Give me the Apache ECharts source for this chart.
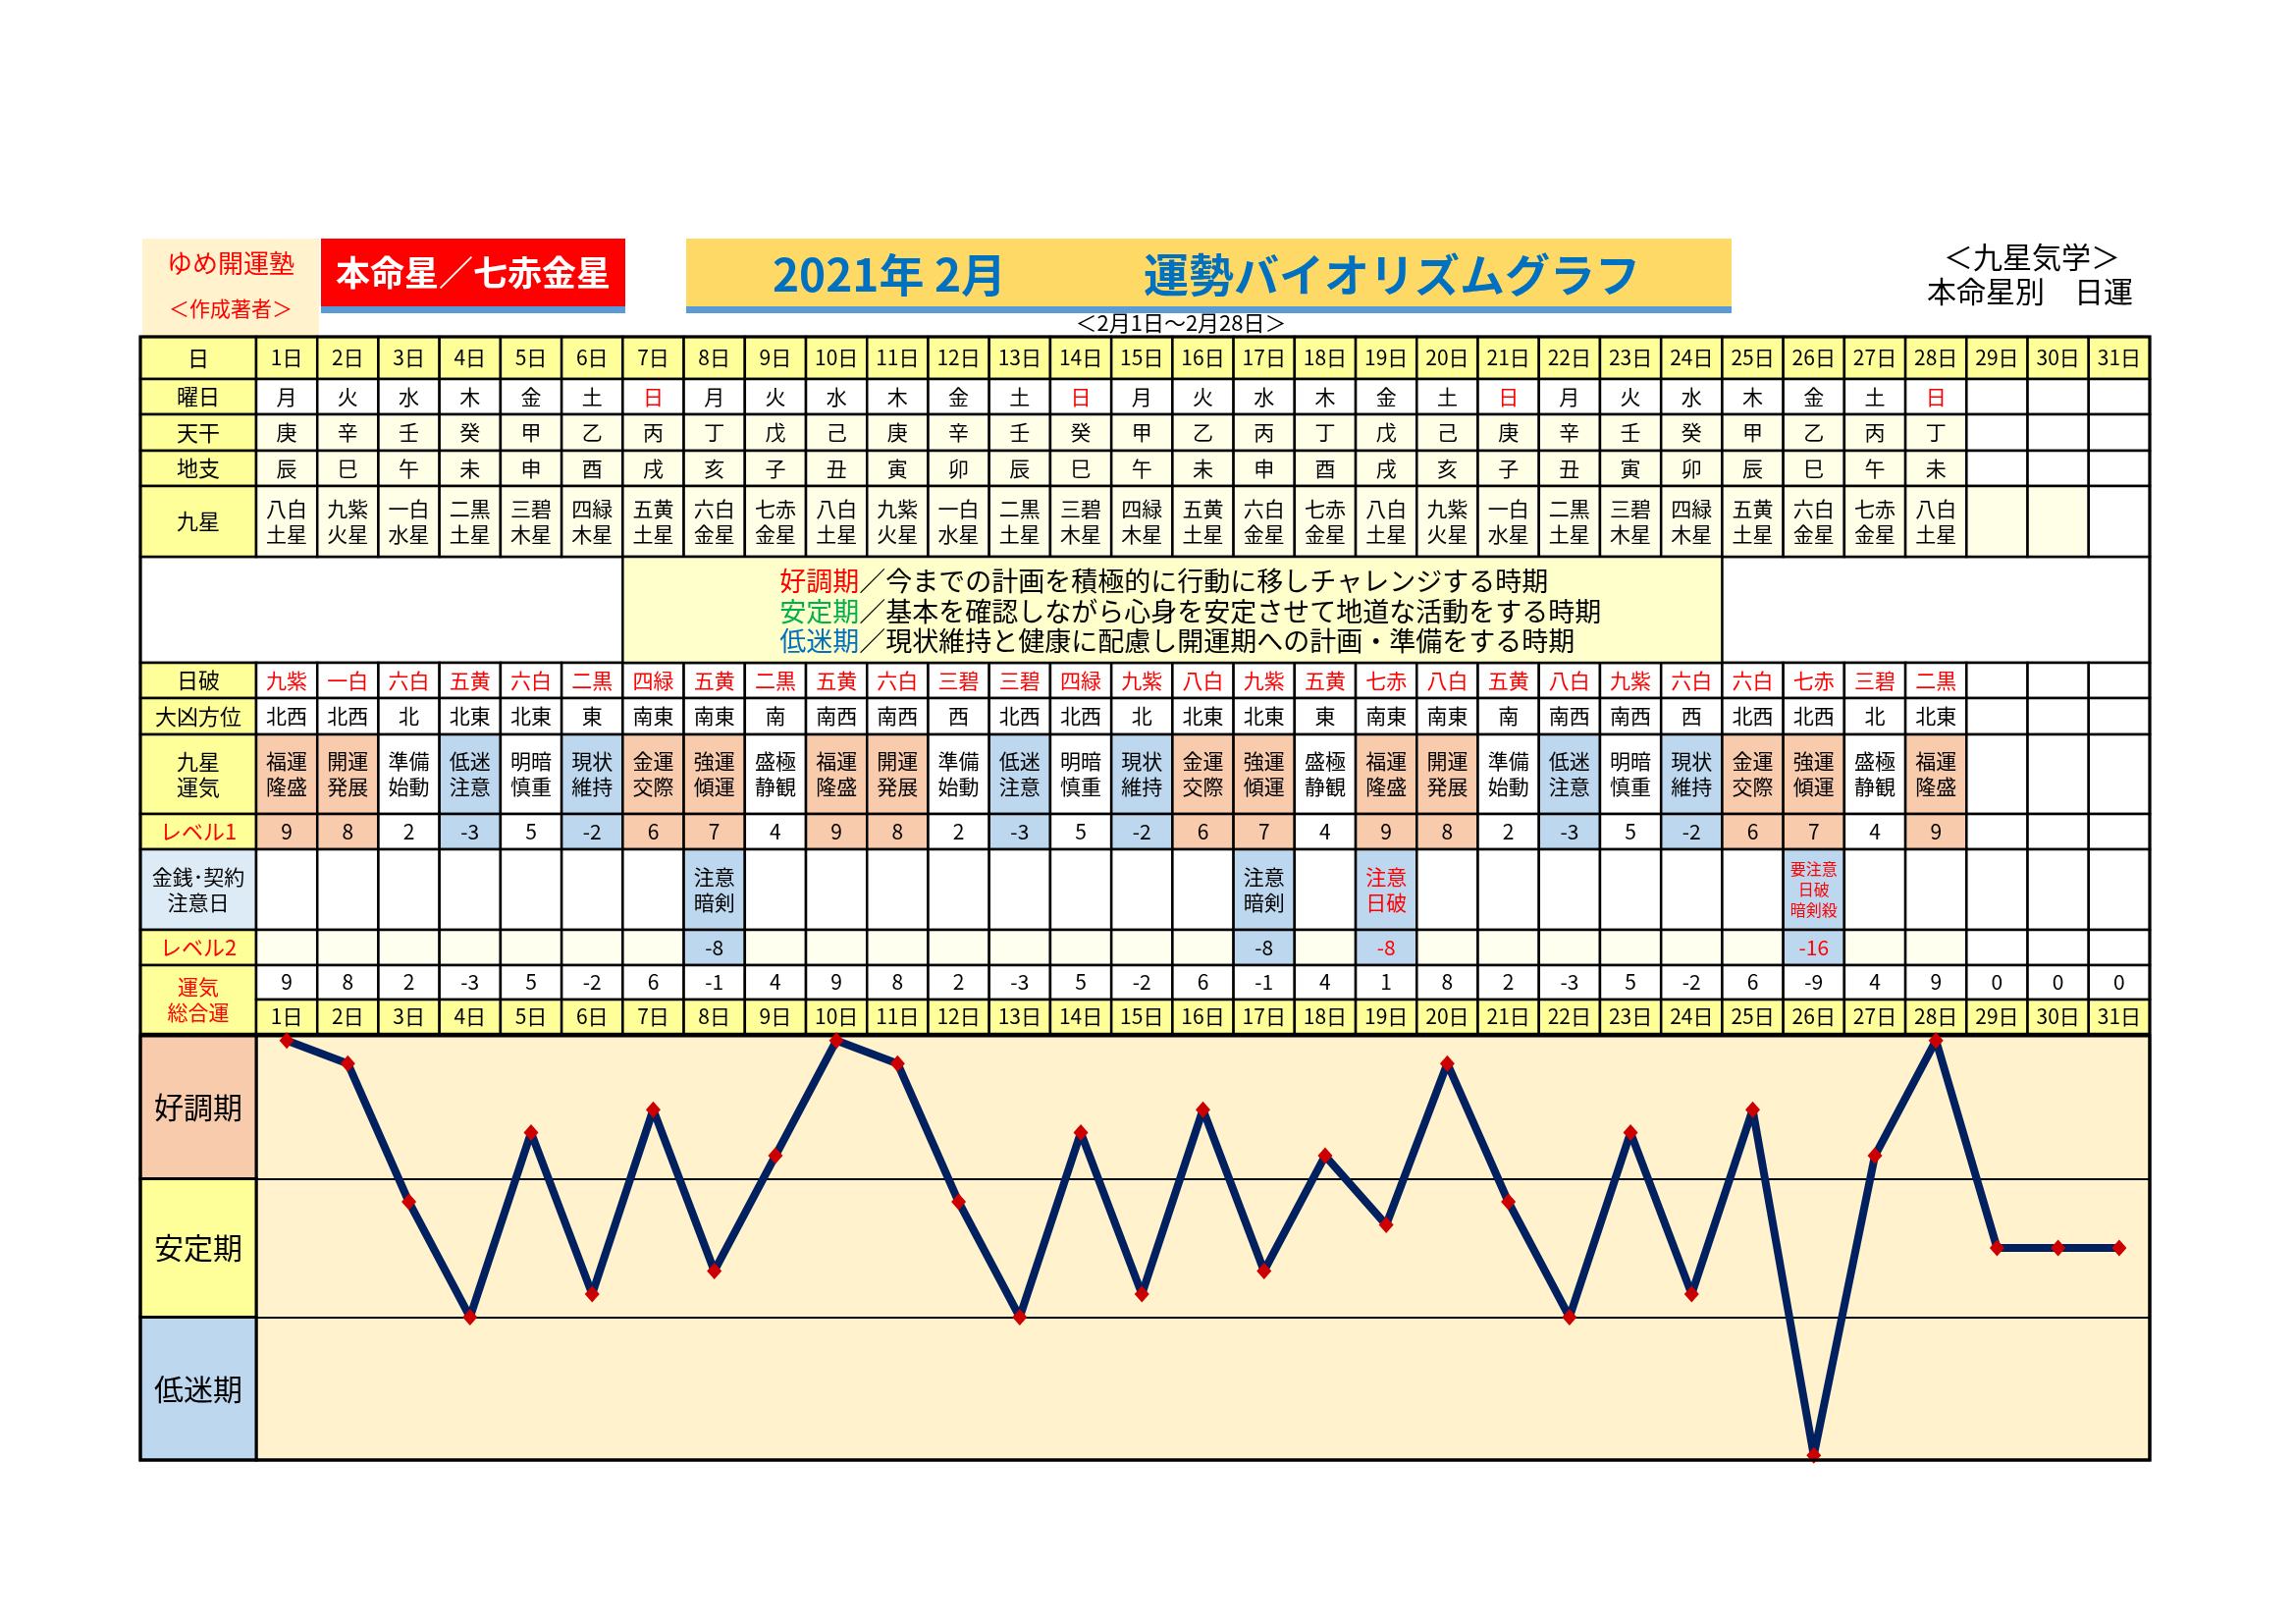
<!DOCTYPE html>
<html><head><meta charset="utf-8">
<script src="https://cdn.jsdelivr.net/npm/echarts@6/dist/echarts.min.js"></script>
<style>html,body{margin:0;padding:0;background:#fff}#c{width:2339px;height:1654px}</style>
</head><body><div id="c"></div>
<script>
// ---------- data ----------
const days = ['1日','2日','3日','4日','5日','6日','7日','8日','9日','10日','11日','12日','13日','14日','15日','16日','17日','18日','19日','20日','21日','22日','23日','24日','25日','26日','27日','28日','29日','30日','31日'];
const weekdays = ['月','火','水','木','金','土','日','月','火','水','木','金','土','日','月','火','水','木','金','土','日','月','火','水','木','金','土','日'];
const tenkan = ['庚','辛','壬','癸','甲','乙','丙','丁','戊','己','庚','辛','壬','癸','甲','乙','丙','丁','戊','己','庚','辛','壬','癸','甲','乙','丙','丁'];
const chishi = ['辰','巳','午','未','申','酉','戌','亥','子','丑','寅','卯','辰','巳','午','未','申','酉','戌','亥','子','丑','寅','卯','辰','巳','午','未'];
const kyusei = ['八白\n土星','九紫\n火星','一白\n水星','二黒\n土星','三碧\n木星','四緑\n木星','五黄\n土星','六白\n金星','七赤\n金星',
  '八白\n土星','九紫\n火星','一白\n水星','二黒\n土星','三碧\n木星','四緑\n木星','五黄\n土星','六白\n金星','七赤\n金星',
  '八白\n土星','九紫\n火星','一白\n水星','二黒\n土星','三碧\n木星','四緑\n木星','五黄\n土星','六白\n金星','七赤\n金星','八白\n土星'];
const nippa = ['九紫','一白','六白','五黄','六白','二黒','四緑','五黄','二黒','五黄','六白','三碧','三碧','四緑','九紫','八白','九紫','五黄','七赤','八白','五黄','八白','九紫','六白','六白','七赤','三碧','二黒'];
const daikyo = ['北西','北西','北','北東','北東','東','南東','南東','南','南西','南西','西','北西','北西','北','北東','北東','東','南東','南東','南','南西','南西','西','北西','北西','北','北東'];
const unki = ['福運\n隆盛','開運\n発展','準備\n始動','低迷\n注意','明暗\n慎重','現状\n維持','金運\n交際','強運\n傾運','盛極\n静観',
  '福運\n隆盛','開運\n発展','準備\n始動','低迷\n注意','明暗\n慎重','現状\n維持','金運\n交際','強運\n傾運','盛極\n静観',
  '福運\n隆盛','開運\n発展','準備\n始動','低迷\n注意','明暗\n慎重','現状\n維持','金運\n交際','強運\n傾運','盛極\n静観','福運\n隆盛'];
const level1 = [9,8,2,-3,5,-2,6,7,4,9,8,2,-3,5,-2,6,7,4,9,8,2,-3,5,-2,6,7,4,9];
const caution = ['','','','','','','','注意\n暗剣','','','','','','','','','注意\n暗剣','','注意\n日破','','','','','','','要注意\n日破\n暗剣殺','',''];
const level2 = [null,null,null,null,null,null,null,-8,null,null,null,null,null,null,null,null,-8,null,-8,null,null,null,null,null,null,-16,null,null];
const total = [9,8,2,-3,5,-2,6,-1,4,9,8,2,-3,5,-2,6,-1,4,1,8,2,-3,5,-2,6,-9,4,9,0,0,0];
const bandTop = [9.2, 3, -3];
const bandBottom = [3, -3, -9.2];
const bandLabels = ['好調期','安定期','低迷期'];
const legendLines = [
  ['好調期','／今までの計画を積極的に行動に移しチャレンジする時期'],
  ['安定期','／基本を確認しながら心身を安定させて地道な活動をする時期'],
  ['低迷期','／現状維持と健康に配慮し開運期への計画・準備をする時期']
];

// ---------- styles ----------
const FONT = '"Noto Sans CJK JP","Noto Sans",sans-serif';
const RED = '#FF0000', Y = '#FFFF99', LY = '#FFFFE8', PEACH = '#F8CBAD', BLUE = '#BDD7EE';
const L = 143, LW = 118, X0 = 261, X1 = 2190;
const lvlBg = v => v >= 6 ? PEACH : (v < 0 ? BLUE : '#FFFFFF');

const rows = [
  {top:343, h:43, label:'日', cell:i=>({text:days[i], bg:Y})},
  {top:386, h:36, label:'曜日', cell:i=>({text:weekdays[i]||'', bg:'#FFFFFF', color: weekdays[i]==='日'?RED:'#000'})},
  {top:422, h:37, label:'天干', cell:i=>({text:tenkan[i]||'', bg:i<28?LY:'#FFFFFF'})},
  {top:459, h:36, label:'地支', cell:i=>({text:chishi[i]||'', bg:i<28?LY:'#FFFFFF'})},
  {top:495, h:72, label:'九星', cell:i=>({text:kyusei[i]||'', bg:i<30?LY:'#FFFFFF'})},
  {top:675, h:36, label:'日破', cell:i=>({text:nippa[i]||'', bg:'#FFFFFF', color:RED})},
  {top:711, h:37, label:'大凶方位', cell:i=>({text:daikyo[i]||'', bg:'#FFFFFF'})},
  {top:748, h:81, label:'九星\n運気', cell:i=>({text:unki[i]||'', bg:i<28?lvlBg(level1[i]):'#FFFFFF'})},
  {top:829, h:36, label:'レベル1', labelColor:RED, cell:i=>({text:i<28?String(level1[i]):'', bg:i<28?lvlBg(level1[i]):'#FFFFFF'})},
  {top:865, h:82, label:'金銭･契約\n注意日', labelBg:'#DDEBF7', labelSize:21, cell:i=>{
      const t = caution[i]||''; const red = t.indexOf('日破')>=0;
      return {text:t, bg:t?BLUE:'#FFFFFF', color:red?RED:'#000', size:t.split('\n').length>2?16:21, lh:t.split('\n').length>2?21:26};
  }},
  {top:947, h:36, label:'レベル2', labelColor:RED, cell:i=>{
      const v = level2[i]; const red = (caution[i]||'').indexOf('日破')>=0;
      return {text:v==null?'':String(v), bg:v!=null?BLUE:(i<28?'#FFFFF0':'#FFFFFF'), color:red?RED:'#000'};
  }},
  {top:983, h:35, label:null, cell:i=>({text:String(total[i]), bg:'#FFFFFF'})},
  {top:1018, h:35, label:null, cell:i=>({text:days[i], bg:Y})}
];

function txt(text, x, y, size, color, weight, lh){
  return {type:'text', x:x, y:y, z:10, style:{text:text, fill:color||'#000', font:(weight||'normal')+' '+size+'px '+FONT,
    align:'center', verticalAlign:'middle', textAlign:'center', textVerticalAlign:'middle', lineHeight:lh||size+4}};
}

const grids = [], xAxes = [], yAxes = [], series = [];
rows.forEach((r, gi) => {
  grids.push({left:X0, width:X1-X0, top:r.top, height:r.h});
  xAxes.push({type:'category', data:days, gridIndex:gi, show:false});
  yAxes.push({type:'category', data:['r'], gridIndex:gi, show:false});
  series.push({type:'custom', xAxisIndex:gi, yAxisIndex:gi, silent:true,
    data: days.map((d, j) => [j, 0]),
    renderItem: function(params, api){
      const i = api.value(0);
      const c = api.coord([i, 0]);
      const s = api.size([1, 1]);
      const cell = r.cell(i);
      const ch = [{type:'rect', shape:{x:c[0]-s[0]/2, y:c[1]-s[1]/2, width:s[0], height:s[1]},
        style:{fill:cell.bg, stroke:'#000', lineWidth:2.5}}];
      if (cell.text) {
        const sz = cell.size || 21;
        ch.push({type:'text', style:{text:cell.text, x:c[0], y:c[1], fill:cell.color||'#000',
          font:sz+'px '+FONT, align:'center', verticalAlign:'middle', textAlign:'center', textVerticalAlign:'middle', lineHeight:cell.lh||26}});
      }
      return {type:'group', children:ch};
    }
  });
});

// legend row grid
let gi = rows.length;
grids.push({left:X0, width:X1-X0, top:567, height:108});
xAxes.push({type:'category', data:days, gridIndex:gi, show:false});
yAxes.push({type:'category', data:['r'], gridIndex:gi, show:false});
series.push({type:'custom', xAxisIndex:gi, yAxisIndex:gi, silent:true,
  data:[[6, 0, 23]],
  renderItem: function(params, api){
    const a = api.coord([api.value(0), 0]);
    const b = api.coord([api.value(2), 0]);
    const s = api.size([1, 1]);
    const x = a[0]-s[0]/2, w = b[0]+s[0]/2 - x, y = a[1]-s[1]/2;
    const cols = ['#FF0000','#00B050','#0070C0'];
    const ch = [{type:'rect', shape:{x:x, y:y, width:w, height:s[1]}, style:{fill:'#FFFFCC', stroke:'#000', lineWidth:2.5}}];
    legendLines.forEach((ln, k) => {
      ch.push({type:'text', style:{text:'{h|'+ln[0]+'}{t|'+ln[1]+'}', x:x+160, y:y+25+k*30.5,
        font:'27px '+FONT, align:'left', verticalAlign:'middle', textAlign:'left', textVerticalAlign:'middle',
        rich:{h:{fill:cols[k], font:'27px '+FONT}, t:{fill:'#000', font:'27px '+FONT}}}});
    });
    return {type:'group', children:ch};
  }
});

// chart grid
gi++;
grids.push({left:X0, width:X1-X0, top:1055, height:432, show:true, backgroundColor:'#FFF2CC', borderColor:'#000', borderWidth:3});
xAxes.push({type:'category', data:days, gridIndex:gi, show:false});
yAxes.push({type:'value', min:-9.2, max:9.2, gridIndex:gi, show:false, splitLine:{show:false}});
series.push({type:'line', xAxisIndex:gi, yAxisIndex:gi, data:[], z:1, silent:true,
  markLine:{silent:true, symbol:['none','none'], label:{show:false}, lineStyle:{color:'#000', width:2, type:'solid'},
    data:[{yAxis:bandBottom[0]}, {yAxis:bandBottom[1]}]}});
series.push({type:'line', xAxisIndex:gi, yAxisIndex:gi, data:total, z:5, animation:false,
  symbol:'diamond', symbolSize:[15,17], showAllSymbol:true,
  itemStyle:{color:'#CC0000', borderWidth:0},
  lineStyle:{color:'#002060', width:8}});

// chart label column grid
gi++;
grids.push({left:L, width:LW, top:1055, height:432});
xAxes.push({type:'category', data:['l'], gridIndex:gi, show:false});
yAxes.push({type:'value', min:-9.2, max:9.2, gridIndex:gi, show:false, splitLine:{show:false}});
series.push({type:'custom', xAxisIndex:gi, yAxisIndex:gi, silent:true,
  data: bandLabels.map((t, k) => [0, bandTop[k], bandBottom[k]]),
  renderItem: function(params, api){
    const p0 = api.coord([0, api.value(1)]);
    const p1 = api.coord([0, api.value(2)]);
    const w = api.size([1, 0])[0];
    const fills = [PEACH, Y, BLUE];
    const k = params.dataIndex;
    return {type:'group', children:[
      {type:'rect', shape:{x:p0[0]-w/2, y:p0[1], width:w, height:p1[1]-p0[1]}, style:{fill:fills[k], stroke:'#000', lineWidth:3}},
      {type:'text', style:{text:bandLabels[k], x:p0[0], y:(p0[1]+p1[1])/2, fill:'#000', font:'30px '+FONT,
        align:'center', verticalAlign:'middle', textAlign:'center', textVerticalAlign:'middle'}}
    ]};
  }
});

// ---------- graphic: headers & row labels ----------
const g = [];
g.push({type:'rect', shape:{x:145, y:243, width:180, height:100}, style:{fill:'#FFF2CC'}});
g.push(txt('ゆめ開運塾', 235, 268, 26, RED));
g.push(txt('＜作成著者＞', 235, 314, 21, RED));
g.push({type:'rect', shape:{x:327, y:243, width:310, height:69}, style:{fill:'#FF0000'}});
g.push({type:'rect', shape:{x:327, y:312, width:310, height:7}, style:{fill:'#5B9BD5'}});
g.push(txt('本命星／七赤金星', 482, 278, 35, '#FFFFFF', 'bold'));
g.push({type:'rect', shape:{x:699, y:243, width:1065, height:69}, style:{fill:'#FFD966'}});
g.push({type:'rect', shape:{x:699, y:312, width:1065, height:7}, style:{fill:'#5B9BD5'}});
g.push(txt('2021年 2月', 906, 280, 46, '#0070C0', 'bold'));
g.push(txt('運勢バイオリズムグラフ', 1418, 280, 46, '#0070C0', 'bold'));
g.push(txt('＜2月1日～2月28日＞', 1203, 329, 22, '#000'));
g.push(txt('＜九星気学＞', 2070, 262, 30, '#000'));
g.push(txt('本命星別　日運', 2068, 297, 30, '#000'));
g.push({type:'rect', z:-1, shape:{x:L, y:567, width:X1-L, height:108}, style:{fill:'#FFFFFF', stroke:'#000', lineWidth:2.5}});
rows.forEach(r => {
  if (r.label === null) return;
  g.push({type:'rect', shape:{x:L, y:r.top, width:LW, height:r.h}, style:{fill:r.labelBg||Y, stroke:'#000', lineWidth:2.5}});
  g.push(txt(r.label, L+LW/2, r.top+r.h/2, r.labelSize||22, r.labelColor||'#000', 'normal', 26));
});
g.push({type:'rect', shape:{x:L, y:983, width:LW, height:70}, style:{fill:Y, stroke:'#000', lineWidth:2.5}});
g.push(txt('運気\n総合運', L+LW/2, 1018, 21, RED, 'normal', 26));
g.push({type:'rect', z:20, shape:{x:L, y:343, width:X1-L, height:1487-343}, style:{fill:'none', stroke:'#000', lineWidth:3}});

const chart = echarts.init(document.getElementById('c'));
chart.setOption({
  animation:false,
  backgroundColor:'#FFFFFF',
  grid:grids, xAxis:xAxes, yAxis:yAxes, series:series,
  graphic:{elements:g}
});
</script></body></html>
